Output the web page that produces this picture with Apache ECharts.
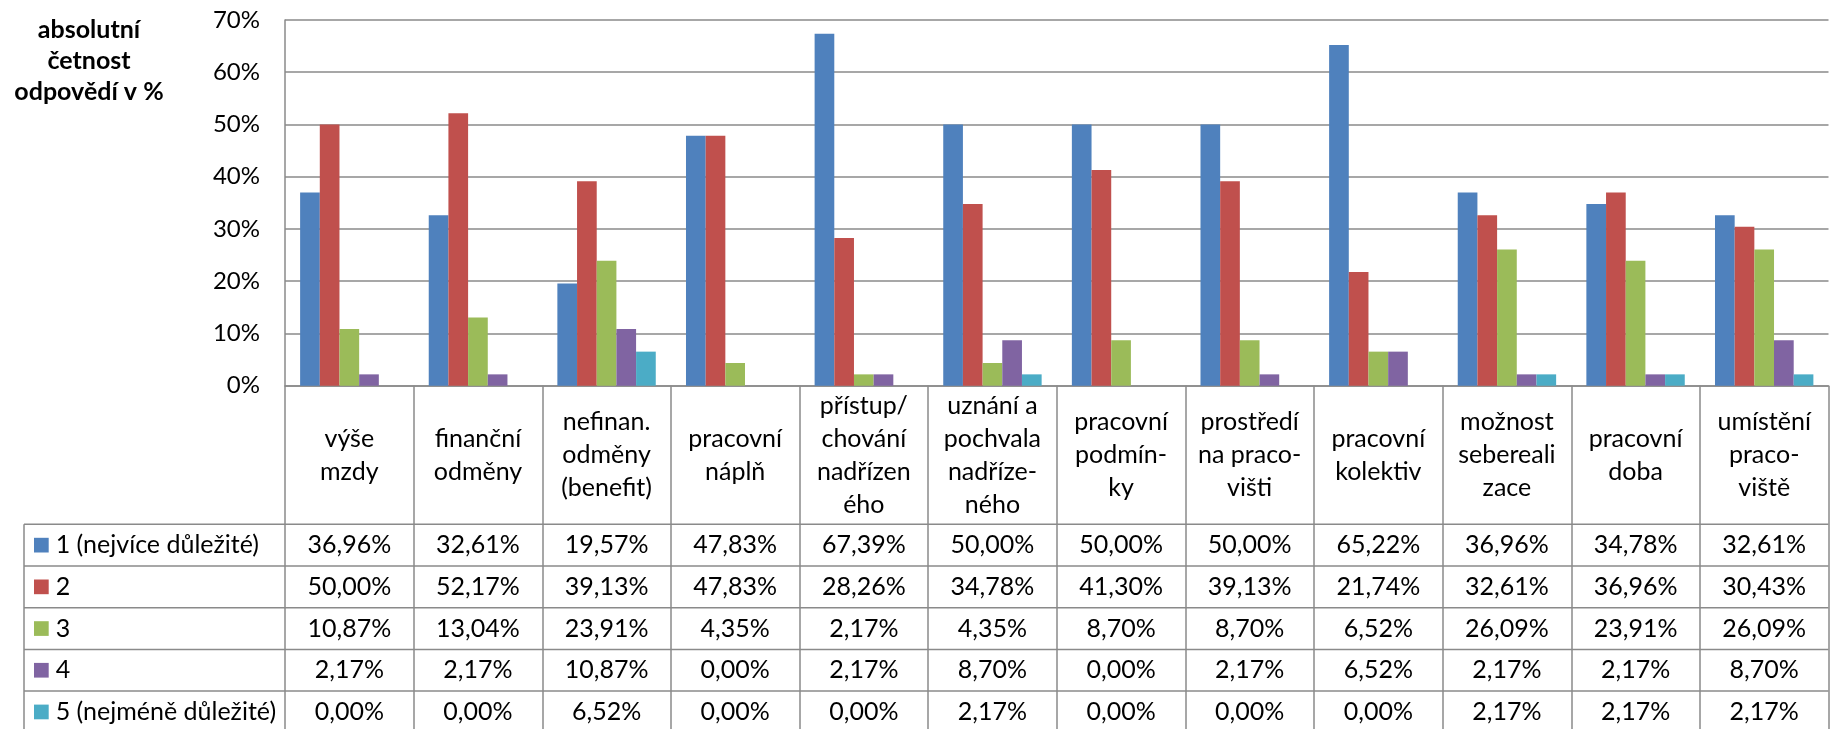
<!DOCTYPE html>
<html>
<head>
<meta charset="utf-8">
<script src="https://cdn.jsdelivr.net/npm/echarts@6/dist/echarts.min.js"></script>
<style>
html,body{margin:0;padding:0;background:#fff;}
#chart{width:1838px;height:729px;}
</style>
</head>
<body>
<div id="chart"></div>
<script>
const categories = ['výše\nmzdy', 'finanční\nodměny', 'nefinan.\nodměny\n(benefit)', 'pracovní\nnáplň',
  'přístup/\nchování\nnadřízen\ného', 'uznání a\npochvala\nnadříze-\nného', 'pracovní\npodmín-\nky',
  'prostředí\nna praco-\nvišti', 'pracovní\nkolektiv', 'možnost\nsebereali\nzace', 'pracovní\ndoba',
  'umístění\npraco-\nviště'];
const seriesNames = ['1 (nejvíce důležité)', '2', '3', '4', '5 (nejméně důležité)'];
const s1 = [36.96, 32.61, 19.57, 47.83, 67.39, 50.00, 50.00, 50.00, 65.22, 36.96, 34.78, 32.61];
const s2 = [50.00, 52.17, 39.13, 47.83, 28.26, 34.78, 41.30, 39.13, 21.74, 32.61, 36.96, 30.43];
const s3 = [10.87, 13.04, 23.91, 4.35, 2.17, 4.35, 8.70, 8.70, 6.52, 26.09, 23.91, 26.09];
const s4 = [2.17, 2.17, 10.87, 0.00, 2.17, 8.70, 0.00, 2.17, 6.52, 2.17, 2.17, 8.70];
const s5 = [0.00, 0.00, 6.52, 0.00, 0.00, 2.17, 0.00, 0.00, 0.00, 2.17, 2.17, 2.17];
const yTicks = [0, 10, 20, 30, 40, 50, 60, 70];
const yAxisTitle = 'absolutní\nčetnost\nodpovědí v %';

const allSeries = [s1, s2, s3, s4, s5];
const colors = ['#4F81BD', '#C0504D', '#9BBB59', '#8064A2', '#4BACC6'];
const FONT = 'Lato, "Noto Sans", sans-serif';
const FS = 25;
const W = 1838, H = 729;
const gLeft = 285, gRight = 1828.5, gTop = 20, gBottom = 385.7;
const headerH = 138.6, rowH = 41.7, tableLeft = 24;
const tableTop = gBottom + headerH;
const lineCol = '#8a8a8a';
const fmt = v => v.toFixed(2).replace('.', ',') + '%';

const chart = echarts.init(document.getElementById('chart'), null, {renderer: 'canvas'});

const graphics = [];
for (let k = 0; k <= seriesNames.length; k++) {
  const y = tableTop + k * rowH;
  graphics.push({type: 'line', shape: {x1: tableLeft, y1: y, x2: gRight, y2: y},
    style: {stroke: lineCol, lineWidth: 1.5}, silent: true});
}
graphics.push({type: 'line', shape: {x1: tableLeft, y1: tableTop, x2: tableLeft, y2: H + 5},
  style: {stroke: lineCol, lineWidth: 1.5}, silent: true});
graphics.push({type: 'text', x: 89, y: 14.5,
  style: {text: yAxisTitle, textAlign: 'center', font: 'bold 25px ' + FONT, lineHeight: 31, fill: '#000'}});

chart.setOption({
  animation: false,
  color: colors,
  textStyle: {fontFamily: FONT},
  grid: {left: gLeft, right: W - gRight, top: gTop, bottom: H - gBottom, containLabel: false, outerBoundsMode: 'none'},
  legend: {
    orient: 'vertical', left: 34, top: tableTop, height: 300, itemGap: 0, padding: 0,
    itemWidth: 14.7, itemHeight: 14.7, icon: 'rect',
    data: seriesNames,
    textStyle: {fontSize: FS, color: '#000', fontFamily: FONT, lineHeight: rowH, padding: [0, 0, 0, 2]},
    selectedMode: false
  },
  xAxis: [{
    type: 'category', data: categories, position: 'bottom',
    axisLine: {lineStyle: {color: lineCol, width: 1.5}},
    axisTick: {show: true, length: H - gBottom + 5, lineStyle: {color: lineCol, width: 1.5}},
    axisLabel: {interval: 0, margin: headerH / 2, verticalAlign: 'middle', lineHeight: 33,
      fontSize: FS, color: '#000', fontFamily: FONT, align: 'center'},
    splitLine: {show: false}
  }, {
    type: 'category', data: categories, position: 'bottom',
    axisLine: {show: false}, axisTick: {show: false},
    axisLabel: {interval: 0, margin: headerH, verticalAlign: 'top', lineHeight: rowH,
      fontSize: FS, color: '#000', fontFamily: FONT, align: 'center',
      formatter: (v, i) => allSeries.map(s => fmt(s[i])).join('\n')},
    splitLine: {show: false}
  }],
  yAxis: {
    type: 'value', min: 0, max: 70, interval: 10,
    axisLine: {show: true, lineStyle: {color: lineCol, width: 1.5}},
    axisTick: {show: false},
    splitLine: {lineStyle: {color: lineCol, width: 1.5}},
    axisLabel: {formatter: v => yTicks.includes(v) ? v + '%' : '', margin: 25, fontSize: 24, color: '#000', fontFamily: FONT}
  },
  series: allSeries.map((d, i) => ({
    name: seriesNames[i], type: 'bar', data: d,
    barGap: '0%', barCategoryGap: '23.5%',
    itemStyle: {color: colors[i]}
  })),
  graphic: graphics
});
</script>
</body>
</html>
